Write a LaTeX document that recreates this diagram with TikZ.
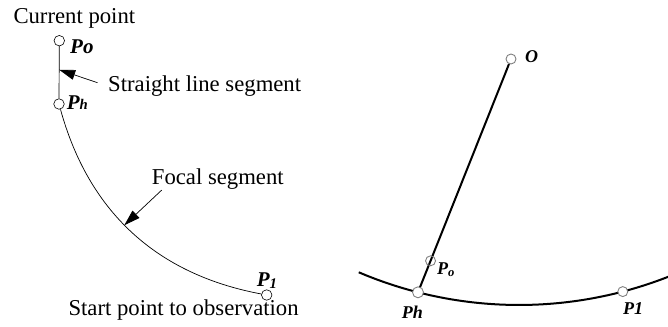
\documentclass[tikz,border=0pt]{standalone}
\usepackage{fontspec}
\usepackage{graphicx}
\setmainfont{Liberation Serif}
\usetikzlibrary{arrows.meta,calc}
\newcommand{\sublab}[3]{#1\raisebox{#2}{\scalebox{0.7}{#3}}}

\begin{document}
\begin{tikzpicture}[x=1pt,y=1pt,declare function={R=409;},
	font=\fontsize{22.7}{27}\selectfont,
	dot/.style={circle,draw,line width=0.6pt,inner sep=0pt,minimum size=10.5pt},
	gdot/.style={circle,draw=gray,fill=white,line width=0.9pt,inner sep=0pt,minimum size=10pt},
	txt/.style={inner sep=0pt,anchor=base west},
	lab/.style={txt,font=\fontsize{21}{21}\selectfont\bfseries\itshape},
	rlab/.style={txt,font=\fontsize{18}{18}\selectfont\bfseries\itshape},
	pointer/.style={line width=0.7pt,-{Triangle[length=16pt,width=10pt]}}]
	\useasboundingbox (0,0) rectangle (668,326);
	% left: path from the current point
	\node[dot] (Pl0) at (59.3,285.3) {};
	\node[dot] (Plh) at (59,222) {};
	\node[dot] (Pl1) at (266.7,31) {};
	\draw[line width=0.7pt] (Pl0)--(Plh) coordinate[pos=0.45] (t1);
	\draw[line width=0.7pt] (Plh) to[bend right=32] coordinate[pos=0.46] (t2) (Pl1);
	\node[txt] (cur) at (13.3,302.7) {Current point};
	\node[txt] (sls) at (108,234.3) {Straight line segment};
	\node[txt] (fs) at (151.7,141) {Focal segment};
	\node[txt] (sta) at (68.3,10) {Start point to observation};
	\draw[pointer,shorten <=11pt] (sls.west)--(t1);
	\draw[pointer] ([xshift=10pt]fs.south west)--(t2);
	\node[lab] at (70,272.7) {Po};
	\node[lab] at (66.7,216) {\sublab{P}{0pt}{h}};
	\node[lab] at (256.7,39) {\sublab{P}{-2pt}{1}};
	% right: circle arc and centre line
	\coordinate (C) at (519,430);
	\draw[line width=2pt] (C) ++(-113.07:R) arc[start angle=-113.07,end angle=-68.4,radius=R];
	\path (C) ++(-104.3:R) coordinate (h)
		(C) ++(-75.3:R) coordinate (q);
	\node[gdot] (O) at (511,267) {};
	\draw[line width=2pt] (O)--(h);
	\node[gdot,fill=none] (Pr0) at ($(h)!0.135!(O)$) {};
	\node[gdot,minimum size=11pt] (Prh) at (h) {};
	\node[gdot] (Pr1) at (q) {};
	\node[rlab] at (525,263) {O};
	\node[rlab] at (437,51) {\sublab{P}{-2pt}{o}};
	\node[rlab] at (401.7,7) {Ph};
	\node[rlab] at (623,12) {P1};
\end{tikzpicture}
\end{document}
